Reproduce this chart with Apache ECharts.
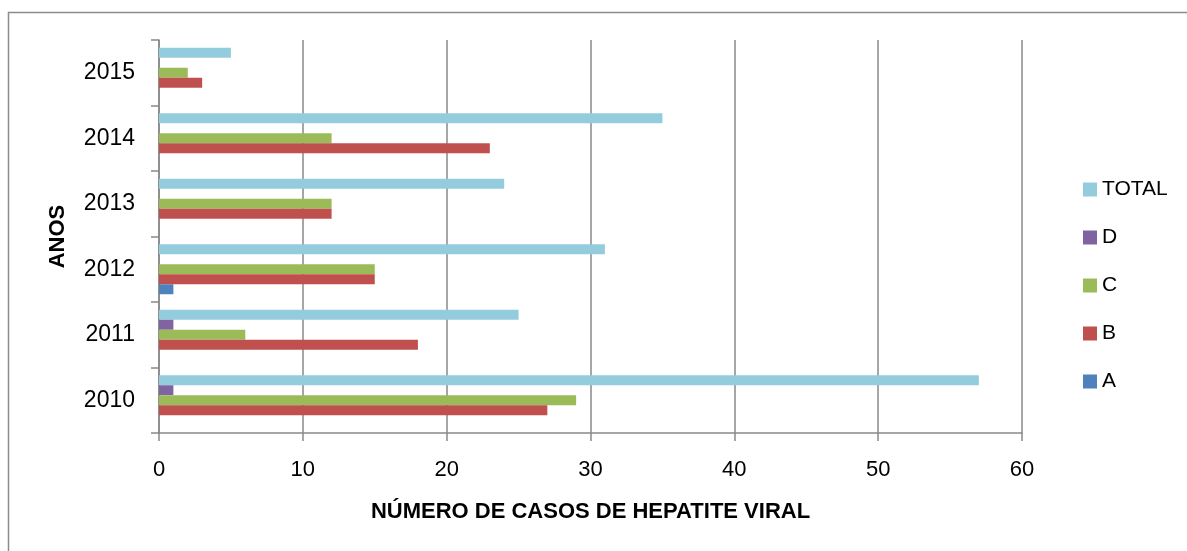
<!DOCTYPE html>
<html>
<head>
<meta charset="utf-8">
<script src="https://cdn.jsdelivr.net/npm/echarts@6/dist/echarts.min.js"></script>
<style>
  html, body { margin: 0; padding: 0; background: #fff; }
  #chart { width: 1187px; height: 551px; }
</style>
</head>
<body>
<div id="chart"></div>
<script>
  // anos (de baixo para cima)
  const years = ['2010', '2011', '2012', '2013', '2014', '2015']
  // ordem das séries: a primeira fica em cima em cada ano
  const seriesNames = ['TOTAL', 'D', 'C', 'B', 'A']
  const valuesTotal = [57, 25, 31, 24, 35, 5]
  const valuesD = [1, 1, 0, 0, 0, 0]
  const valuesC = [29, 6, 15, 12, 12, 2]
  const valuesB = [27, 18, 15, 12, 23, 3]
  const valuesA = [0, 0, 1, 0, 0, 0]
  const xTicks = [0, 10, 20, 30, 40, 50, 60]

  const colors = ['#93CDDD', '#8064A2', '#9BBB59', '#C0504D', '#4F81BD']
  const allValues = [valuesTotal, valuesD, valuesC, valuesB, valuesA]
  const gray = '#898989'
  const font = 'Liberation Sans, Arial, sans-serif'

  const myChart = echarts.init(document.getElementById('chart'))

  const option = {
    animation: false,
    color: colors,
    textStyle: { fontFamily: font },
    graphic: [{
      type: 'rect',
      left: 6, top: 10,
      shape: { width: 1300, height: 700 },
      style: { fill: 'none', stroke: '#8c8c8c', lineWidth: 1.5 },
      z: -1
    }],
    grid: { left: 159, top: 40, right: 165, bottom: 118 },
    legend: {
      orient: 'vertical',
      left: 1078,
      top: 174,
      icon: 'rect',
      itemWidth: 14,
      itemHeight: 14,
      itemGap: 27,
      data: seriesNames,
      textStyle: { fontSize: 21, color: '#000', fontFamily: font }
    },
    xAxis: {
      type: 'value',
      min: xTicks[0],
      max: xTicks[xTicks.length - 1],
      interval: 10,
      name: 'NÚMERO DE CASOS DE HEPATITE VIRAL',
      nameLocation: 'middle',
      nameGap: 68,
      nameTextStyle: { fontSize: 22, fontWeight: 'bold', color: '#000' },
      axisLine: { show: true, lineStyle: { color: gray, width: 1.5 } },
      axisTick: { show: true, length: 8, lineStyle: { color: gray, width: 1.5 } },
      axisLabel: { fontSize: 22, color: '#000', margin: 26 },
      splitLine: { show: true, lineStyle: { color: gray, width: 1.5 } }
    },
    yAxis: {
      type: 'category',
      data: years,
      name: 'ANOS',
      nameLocation: 'middle',
      nameRotate: 90,
      nameGap: 90,
      nameTextStyle: { fontSize: 22, fontWeight: 'bold', color: '#000' },
      axisLine: { show: true, lineStyle: { color: gray, width: 1.5 } },
      axisTick: { show: true, length: 8, lineStyle: { color: gray, width: 1.5 } },
      axisLabel: { fontSize: 23, color: '#000', margin: 24 },
      splitLine: { show: false }
    },
    series: seriesNames.map(function (name, i) {
      return {
        name: name,
        type: 'bar',
        barWidth: 10,
        barGap: '0%',
        data: allValues[i]
      }
    })
  }
  myChart.setOption(option)
</script>
</body>
</html>
